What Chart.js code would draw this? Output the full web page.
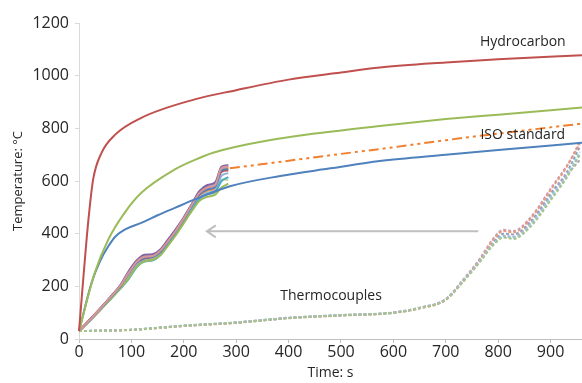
<!DOCTYPE html>
<html>
<head>
<meta charset="utf-8">
<script src="https://cdn.jsdelivr.net/npm/chart.js@4.4.1/dist/chart.umd.min.js"></script>
<style>
  body { margin: 0; background: #fff; }
  #wrap { width: 582px; height: 383px; }
</style>
</head>
<body>
<div id="wrap"><canvas id="fire-chart"></canvas></div>
<script>
// fire curves (time in s, temperature in °C)
const hcTimes = [0, 8, 18, 27, 43, 69, 119, 221, 300, 400, 500, 574, 700, 800, 960];
const hcTemps = [30, 225, 453, 606, 707, 776, 840, 910, 945, 985, 1012, 1031, 1050, 1062, 1078];

const greenTimes = [0, 30, 56, 87, 119, 183, 221, 256, 300, 350, 450, 574, 700, 800, 960];
const greenTemps = [30, 251, 378, 479, 555, 644, 680, 707, 730, 750, 780, 809, 835, 852, 879];

const blueTimes = [0, 24, 40, 56, 70, 88, 119, 150, 183, 221, 288, 384, 480, 574, 700, 800, 960];
const blueTemps = [30, 213, 295, 352, 390, 416, 441, 470, 498, 530, 580, 619, 648, 676, 700, 718, 745];

const isoTimes = [288, 400, 500, 600, 700, 800, 960];
const isoTemps = [648, 677, 703, 728, 755, 780, 818];

// thermocouples on the exposed side
const tcTimes = [0, 20, 40, 60, 80, 95, 110, 125, 140, 155, 170, 185, 200, 215, 230, 245, 260, 272, 285];
const tcSeries = [
  [30, 71, 114, 158, 205, 252, 293, 312, 315, 335, 372, 412, 458, 508, 555, 575, 585, 650, 655],
  [30, 70, 113, 157, 203, 250, 290, 308, 312, 330, 370, 410, 455, 505, 550, 568, 578, 640, 645],
  [30, 69, 110, 152, 195, 232, 275, 295, 300, 318, 355, 395, 440, 485, 525, 540, 548, 575, 590],
  [30, 72, 115, 160, 208, 258, 298, 320, 322, 340, 378, 418, 462, 512, 562, 585, 595, 655, 660],
  [30, 68, 109, 151, 193, 228, 272, 294, 298, 318, 358, 398, 443, 490, 532, 550, 558, 600, 615],
  [30, 69, 111, 153, 197, 238, 280, 298, 303, 322, 362, 402, 447, 495, 538, 556, 565, 620, 630],
  [30, 71, 113, 157, 202, 248, 288, 305, 310, 330, 368, 408, 453, 502, 548, 568, 578, 635, 640],
  [30, 69, 110, 152, 196, 235, 278, 296, 301, 320, 360, 400, 445, 492, 535, 552, 560, 605, 605],
  [30, 72, 115, 159, 206, 255, 296, 316, 318, 337, 375, 415, 460, 510, 558, 580, 590, 648, 655],
  [30, 70, 112, 155, 200, 245, 285, 300, 305, 325, 365, 405, 450, 500, 545, 565, 575, 645, 650]
];
const tcColors = ["#d99694", "#4f81bd", "#9bbb59", "#8064a2", "#4bacc6", "#95b3d7", "#c0504d", "#c3d69b", "#b3a2c7", "#f79646"];

// thermocouples on the unexposed side (dashed)
const ucTimes = [0, 100, 150, 200, 300, 400, 500, 600, 650, 700, 730, 765, 790, 810, 829, 861, 905, 930, 956];
const ucSeries = [
  [30, 35, 42, 50, 62, 79, 90, 100, 117, 149, 210, 292, 355, 385, 380, 425, 540, 610, 700],
  [30, 35, 43, 51, 63, 80, 91, 100, 118, 150, 212, 295, 360, 390, 385, 432, 550, 615, 710],
  [30, 35, 42, 50, 62, 80, 90, 100, 118, 150, 213, 296, 360, 392, 388, 438, 555, 620, 680],
  [30, 34, 41, 49, 61, 79, 89, 99, 116, 148, 212, 298, 375, 410, 405, 455, 580, 650, 750],
  [30, 35, 42, 51, 63, 81, 91, 101, 119, 152, 218, 305, 380, 415, 410, 460, 585, 655, 740],
  [30, 35, 42, 50, 62, 80, 90, 100, 118, 150, 215, 300, 365, 400, 397, 445, 565, 630, 730]
];
const ucColors = ["#a9c28a", "#93cddd", "#b3a2c7", "#e89a7a", "#c9a0c0", "#8ea4c2"];

const xTickValues = [0, 100, 200, 300, 400, 500, 600, 700, 800, 900];

// annotations: [text, time, temperature]
const labelTexts = ["Hydrocarbon", "ISO standard", "Thermocouples"];
const labelTimes = [847, 847, 481];
const labelTemps = [1128, 773, 162];
// gray arrow pointing left: from time, to time, at temperature
const arrowFrom = 762;
const arrowTo = 244;
const arrowTemp = 409;

function pts(xs, ys) {
  return xs.map((x, i) => ({ x: x, y: ys[i] }));
}

const datasets = [];
datasets.push({ data: pts(hcTimes, hcTemps), borderColor: "#c0504d", borderWidth: 2 });
datasets.push({ data: pts(greenTimes, greenTemps), borderColor: "#9bbb59", borderWidth: 2 });
datasets.push({ data: pts(blueTimes, blueTemps), borderColor: "#4f81bd", borderWidth: 2 });
ucSeries.forEach((s, i) => {
  datasets.push({ data: pts(ucTimes, s), borderColor: ucColors[i], borderWidth: 2, borderDash: [3, 2] });
});
datasets.push({ data: pts(isoTimes, isoTemps), borderColor: "#f07f2e", borderWidth: 2, borderDash: [10, 4, 3, 4, 3, 4] });
tcSeries.forEach((s, i) => {
  datasets.push({ data: pts(tcTimes, s), borderColor: tcColors[i], borderWidth: i === tcSeries.length - 1 ? 3 : 2 });
});

const annotate = {
  id: "annotate",
  afterDatasetsDraw(chart) {
    const ctx = chart.ctx;
    const xs = chart.scales.x;
    const ys = chart.scales.y;
    ctx.save();
    // arrow
    const ax1 = xs.getPixelForValue(arrowFrom);
    const ax2 = xs.getPixelForValue(arrowTo);
    const ay = ys.getPixelForValue(arrowTemp);
    ctx.strokeStyle = "#bfbfbf";
    ctx.lineWidth = 2;
    ctx.beginPath();
    ctx.moveTo(ax1, ay);
    ctx.lineTo(ax2, ay);
    ctx.moveTo(ax2 + 9, ay - 6);
    ctx.lineTo(ax2, ay);
    ctx.lineTo(ax2 + 9, ay + 6);
    ctx.stroke();
    // texts
    ctx.fillStyle = "#262626";
    ctx.font = "14px 'Open Sans'";
    ctx.textAlign = "center";
    ctx.textBaseline = "middle";
    labelTexts.forEach((t, i) => {
      ctx.fillText(t, xs.getPixelForValue(labelTimes[i]), ys.getPixelForValue(labelTemps[i]));
    });
    ctx.restore();
  }
};

new Chart(document.getElementById("fire-chart"), {
  type: "line",
  data: { datasets: datasets },
  plugins: [annotate],
  options: {
    responsive: true,
    maintainAspectRatio: false,
    animation: false,
    clip: false,
    layout: { padding: { top: 23, right: 0, left: 6, bottom: 0 } },
    elements: {
      point: { radius: 0 },
      line: { cubicInterpolationMode: "monotone", fill: false }
    },
    plugins: { legend: { display: false }, tooltip: { enabled: false } },
    scales: {
      x: {
        type: "linear",
        min: 0,
        max: 960,
        afterBuildTicks: (s) => { s.ticks = xTickValues.map((v) => ({ value: v })); },
        afterFit: (s) => { s.height = 44; },
        ticks: { color: "#262626", font: { family: "'Open Sans'", size: 16 }, padding: 0, maxRotation: 0, autoSkip: false, callback: (v) => String(v) },
        grid: { drawOnChartArea: false, tickLength: 4, color: "#bfbfbf" },
        border: { color: "#bfbfbf" },
        title: { display: true, text: "Time: s", color: "#262626", font: { family: "'Open Sans'", size: 14 }, padding: { top: 0, bottom: 2 } }
      },
      y: {
        min: 0,
        max: 1200,
        afterFit: (s) => { s.width = 73; },
        ticks: { stepSize: 200, color: "#262626", font: { family: "'Open Sans'", size: 16 }, padding: 6, callback: (v) => String(v) },
        grid: { drawOnChartArea: false, tickLength: 4, color: "#d9d9d9" },
        border: { color: "#d9d9d9" },
        title: { display: true, text: "Temperature: °C", color: "#262626", font: { family: "'Open Sans'", size: 13 } }
      }
    }
  }
});
</script>
</body>
</html>
